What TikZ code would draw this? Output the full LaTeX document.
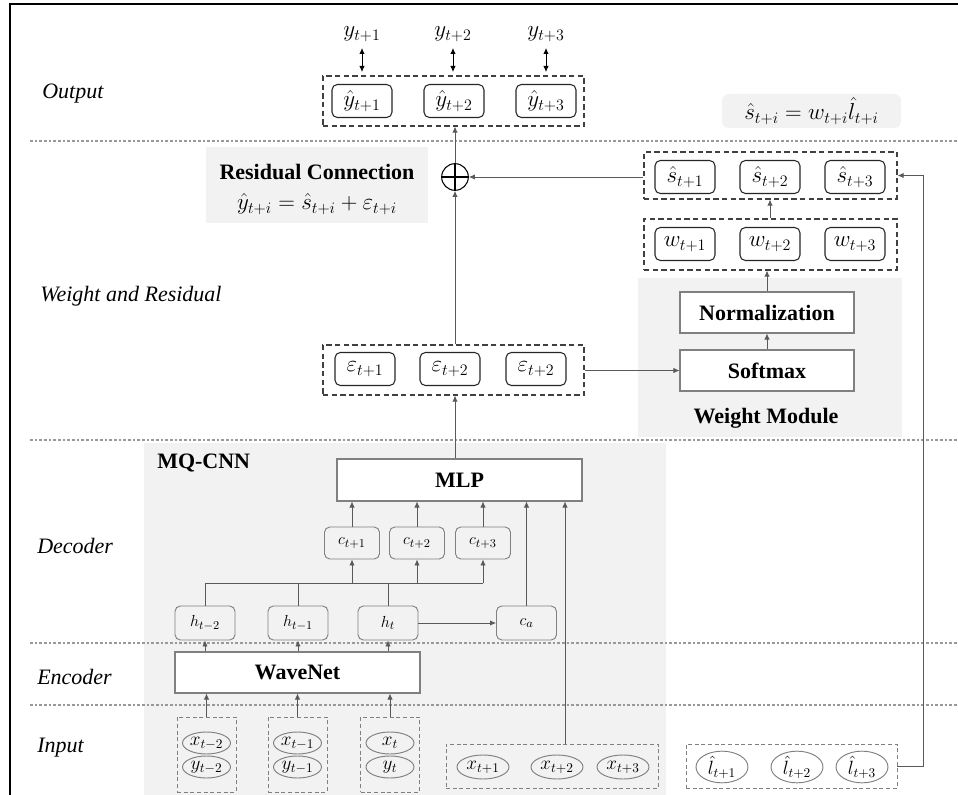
\documentclass[tikz,border=0pt]{standalone}
\usepackage{fontspec}
\setmainfont{Liberation Serif}
\usetikzlibrary{arrows.meta,shapes.geometric}
\definecolor{panel}{HTML}{F2F2F2}
\definecolor{sepgray}{HTML}{999999}
\definecolor{boxgray}{HTML}{808080}
\definecolor{lingray}{HTML}{595959}
\tikzset{
  sep/.style={draw=sepgray,line width=2.2pt,dash pattern=on 2pt off 1.5pt},
  lbl/.style={font=\itshape\fontsize{16.5}{18}\selectfont,anchor=west,inner sep=0pt},
  bold/.style={font=\bfseries\fontsize{16.5}{18}\selectfont,inner sep=0pt},
  mth/.style={font=\fontsize{17}{19}\selectfont,inner sep=0pt},
  rbox/.style={draw=black!85,rounded corners=4pt,line width=0.8pt,minimum width=45pt,minimum height=24.75pt,inner sep=0pt,font=\fontsize{17}{19}\selectfont},
  cbox/.style={draw=boxgray,rounded corners=4pt,line width=0.7pt,minimum width=41.25pt,minimum height=24pt,inner sep=0pt,font=\fontsize{13}{15}\selectfont},
  hbox/.style={cbox,minimum width=45pt,minimum height=25.5pt},
  sqbox/.style={draw=boxgray,fill=white,line width=0.8pt,inner sep=0pt},
  dcont/.style={draw=black!75,dash pattern=on 4pt off 2.5pt,line width=0.9pt,inner sep=0pt},
  icont/.style={draw=boxgray,dash pattern=on 3pt off 2pt,line width=0.7pt,inner sep=0pt},
  ell/.style={ellipse,draw=boxgray,line width=0.7pt,inner sep=0pt,font=\fontsize{14}{16}\selectfont},
  arr/.style={draw=lingray,line width=0.6pt,-{Latex[length=4.5pt,width=4pt]}},
  ln/.style={draw=lingray,line width=0.6pt},
  darr/.style={draw=black,line width=0.6pt,{Latex[length=4.5pt,width=4pt]}-{Latex[length=4.5pt,width=4pt]}}
}
\begin{document}
\begin{tikzpicture}[x=0.75pt,y=-0.75pt]
\useasboundingbox (0,0) rectangle (958,795);
% frame
\draw[black,line width=1pt] (10,800) -- (10,4) -- (962,4);
% gray panels
\fill[panel] (144,443) rectangle (666,800);
\fill[panel] (638,278) rectangle (902,437);
\fill[panel] (206,147) rectangle (428,223);
\fill[panel,rounded corners=5pt] (722,94) rectangle (901,128);
% separators
\draw[sep] (30,141) -- (958,141);
\draw[sep] (30,440) -- (958,440);
\draw[sep] (30,643) -- (958,643);
\draw[sep] (30,705) -- (958,705);
% section labels
\node[lbl] (lOut) at (42,94) {Output};
\node[lbl] (lWR) at (40,296) {Weight and Residual};
\node[lbl] (lDec) at (37,546) {Decoder};
\node[lbl] (lEnc) at (37,677) {Encoder};
\node[lbl] (lIn) at (37,748) {Input};

% Output
\node[dcont,minimum width=195.75pt,minimum height=37.5pt] (outc) at (453.5,101) {};
\node[rbox] (yh1) at (362,101) {$\hat{y}_{t+1}$};
\node[rbox] (yh2) at (454,101) {$\hat{y}_{t+2}$};
\node[rbox] (yh3) at (546,101) {$\hat{y}_{t+3}$};
\node[mth] (y1) at (362,34) {$y_{t+1}$};
\node[mth] (y2) at (453,34) {$y_{t+2}$};
\node[mth] (y3) at (546,34) {$y_{t+3}$};
\coordinate (d1a) at (362,48); \coordinate (d1b) at (362,72);
\coordinate (d2a) at (453,48); \coordinate (d2b) at (453,72);
\coordinate (d3a) at (546,48); \coordinate (d3b) at (546,72);
\draw[darr] (d1a) -- (d1b);
\draw[darr] (d2a) -- (d2b);
\draw[darr] (d3a) -- (d3b);

% formula box
\node[mth] (sform) at (811.5,111) {$\hat{s}_{t+i}=w_{t+i}\hat{l}_{t+i}$};

% residual connection
\node[bold] (rc) at (317,172) {Residual Connection};
\node[mth] (rcf) at (317,204) {$\hat{y}_{t+i}=\hat{s}_{t+i}+\varepsilon_{t+i}$};
\node[circle,draw=black,line width=0.8pt,minimum size=20pt,inner sep=0pt] (plus) at (455,177) {};
\draw[line width=0.8pt] (plus.north) -- (plus.south) (plus.west) -- (plus.east);

% s hat
\node[dcont,minimum width=189.75pt,minimum height=35.25pt] (sc) at (770.5,175.5) {};
\node[rbox] (s1) at (685,177) {$\hat{s}_{t+1}$};
\node[rbox] (s2) at (770,177) {$\hat{s}_{t+2}$};
\node[rbox] (s3) at (855,177) {$\hat{s}_{t+3}$};
% w
\node[dcont,minimum width=189.75pt,minimum height=38.25pt] (wc) at (770.5,244.5) {};
\node[rbox] (w1) at (685,244) {$w_{t+1}$};
\node[rbox] (w2) at (770,244) {$w_{t+2}$};
\node[rbox] (w3) at (855,244) {$w_{t+3}$};
% weight module
\node[sqbox,minimum width=130.5pt,minimum height=30.75pt,font=\bfseries\fontsize{16.5}{18}\selectfont] (norm) at (767,312.5) {Normalization};
\node[sqbox,minimum width=130.5pt,minimum height=30.75pt,font=\bfseries\fontsize{16.5}{18}\selectfont] (soft) at (767,370.5) {Softmax};
\node[bold] (wm) at (766,418) {Weight Module};

% epsilon
\node[dcont,minimum width=195.75pt,minimum height=37.5pt] (ec) at (453.5,370) {};
\node[rbox] (e1) at (365,369) {$\varepsilon_{t+1}$};
\node[rbox] (e2) at (450,369) {$\varepsilon_{t+2}$};
\node[rbox] (e3) at (536,369) {$\varepsilon_{t+2}$};

% MQ-CNN
\node[bold,anchor=west] (mq) at (157,463) {MQ-CNN};
\node[sqbox,minimum width=183.75pt,minimum height=31.5pt,font=\bfseries\fontsize{16.5}{18}\selectfont] (mlp) at (459.5,480) {MLP};
\node[cbox] (c1) at (352,543) {$c_{t+1}$};
\node[cbox] (c2) at (417,543) {$c_{t+2}$};
\node[cbox] (c3) at (483,543) {$c_{t+3}$};
\node[hbox] (h1) at (205,623) {$h_{t-2}$};
\node[hbox] (h2) at (298,623) {$h_{t-1}$};
\node[hbox] (h3) at (388,623) {$h_{t}$};
\node[hbox] (ca) at (526.5,623) {$c_{a}$};
\node[sqbox,minimum width=183.75pt,minimum height=30.75pt,font=\bfseries\fontsize{16.5}{18}\selectfont] (wave) at (297.5,672.5) {WaveNet};

% inputs
\node[icont,minimum width=44.25pt,minimum height=56.25pt] (in1) at (206.5,754.5) {};
\node[icont,minimum width=44.25pt,minimum height=56.25pt] (in2) at (297.5,754.5) {};
\node[icont,minimum width=44.25pt,minimum height=56.25pt] (in3) at (390,754.5) {};
\node[ell,minimum width=36pt,minimum height=16.5pt] (x1) at (206.5,743) {$x_{t-2}$};
\node[ell,minimum width=36pt,minimum height=16.5pt] (yy1) at (206.5,767) {$y_{t-2}$};
\node[ell,minimum width=36pt,minimum height=16.5pt] (x2) at (297.5,743) {$x_{t-1}$};
\node[ell,minimum width=36pt,minimum height=16.5pt] (yy2) at (297.5,767) {$y_{t-1}$};
\node[ell,minimum width=36pt,minimum height=16.5pt] (x3) at (390,743) {$x_{t}$};
\node[ell,minimum width=36pt,minimum height=16.5pt] (yy3) at (390,767) {$y_{t}$};
\node[icont,minimum width=159pt,minimum height=33pt] (fx) at (552,766) {};
\node[ell,minimum width=39pt,minimum height=18pt] (fx1) at (483,767) {$x_{t+1}$};
\node[ell,minimum width=39pt,minimum height=18pt] (fx2) at (557,767) {$x_{t+2}$};
\node[ell,minimum width=39pt,minimum height=18pt] (fx3) at (623,767) {$x_{t+3}$};
\node[icont,minimum width=158.25pt,minimum height=33pt] (lc) at (791.5,766) {};
\node[ell,minimum width=39pt,minimum height=18pt] (l1) at (722,767) {$\hat{l}_{t+1}$};
\node[ell,minimum width=39pt,minimum height=18pt] (l2) at (797,767) {$\hat{l}_{t+2}$};
\node[ell,minimum width=39pt,minimum height=18pt] (l3) at (862,767) {$\hat{l}_{t+3}$};

% connectors
\draw[arr] (plus.north) -- (plus.north |- outc.south);
\draw[arr] (sc.west |- plus.east) -- (plus.east);
\draw[arr] (wc.north -| s2.south) -- (sc.south -| s2.south);
\draw[arr] (norm.north) -- (wc.south -| norm.north);
\draw[arr] (soft.north) -- (norm.south);
\draw[arr] (ec.east |- soft.west) -- (soft.west);
\draw[arr] (ec.north -| plus.south) -- (plus.south);
\draw[arr] (mlp.north -| plus.south) -- (ec.south -| plus.south);
\draw[arr] (c1.north) -- (c1.north |- mlp.south);
\draw[arr] (c2.north) -- (c2.north |- mlp.south);
\draw[arr] (c3.north) -- (c3.north |- mlp.south);
\coordinate (bus) at (205,583);
\draw[ln] (h1.north) -- (bus) -- (bus -| c3.south);
\draw[ln] (h2.north) -- (h2.north |- bus);
\draw[ln] (h3.north) -- (h3.north |- bus);
\draw[arr] (bus -| c1.south) -- (c1.south);
\draw[arr] (bus -| c2.south) -- (c2.south);
\draw[arr] (bus -| c3.south) -- (c3.south);
\draw[arr] (h3.east) -- (ca.west);
\draw[arr] (ca.north) -- (ca.north |- mlp.south);
\draw[arr] (fx.north -| 565,0) -- (mlp.south -| 565,0);
\draw[arr] (wave.north -| h1.south) -- (h1.south);
\draw[arr] (wave.north -| h2.south) -- (h2.south);
\draw[arr] (wave.north -| h3.south) -- (h3.south);
\draw[arr] (in1.north) -- (wave.south -| in1.north);
\draw[arr] (in2.north) -- (wave.south -| in2.north);
\draw[arr] (in3.north) -- (wave.south -| in3.north);
\coordinate (rt) at (923,766);
\draw[arr] (lc.east) -- (rt) -- (rt |- sc.east) -- (sc.east);
\end{tikzpicture}
\end{document}
